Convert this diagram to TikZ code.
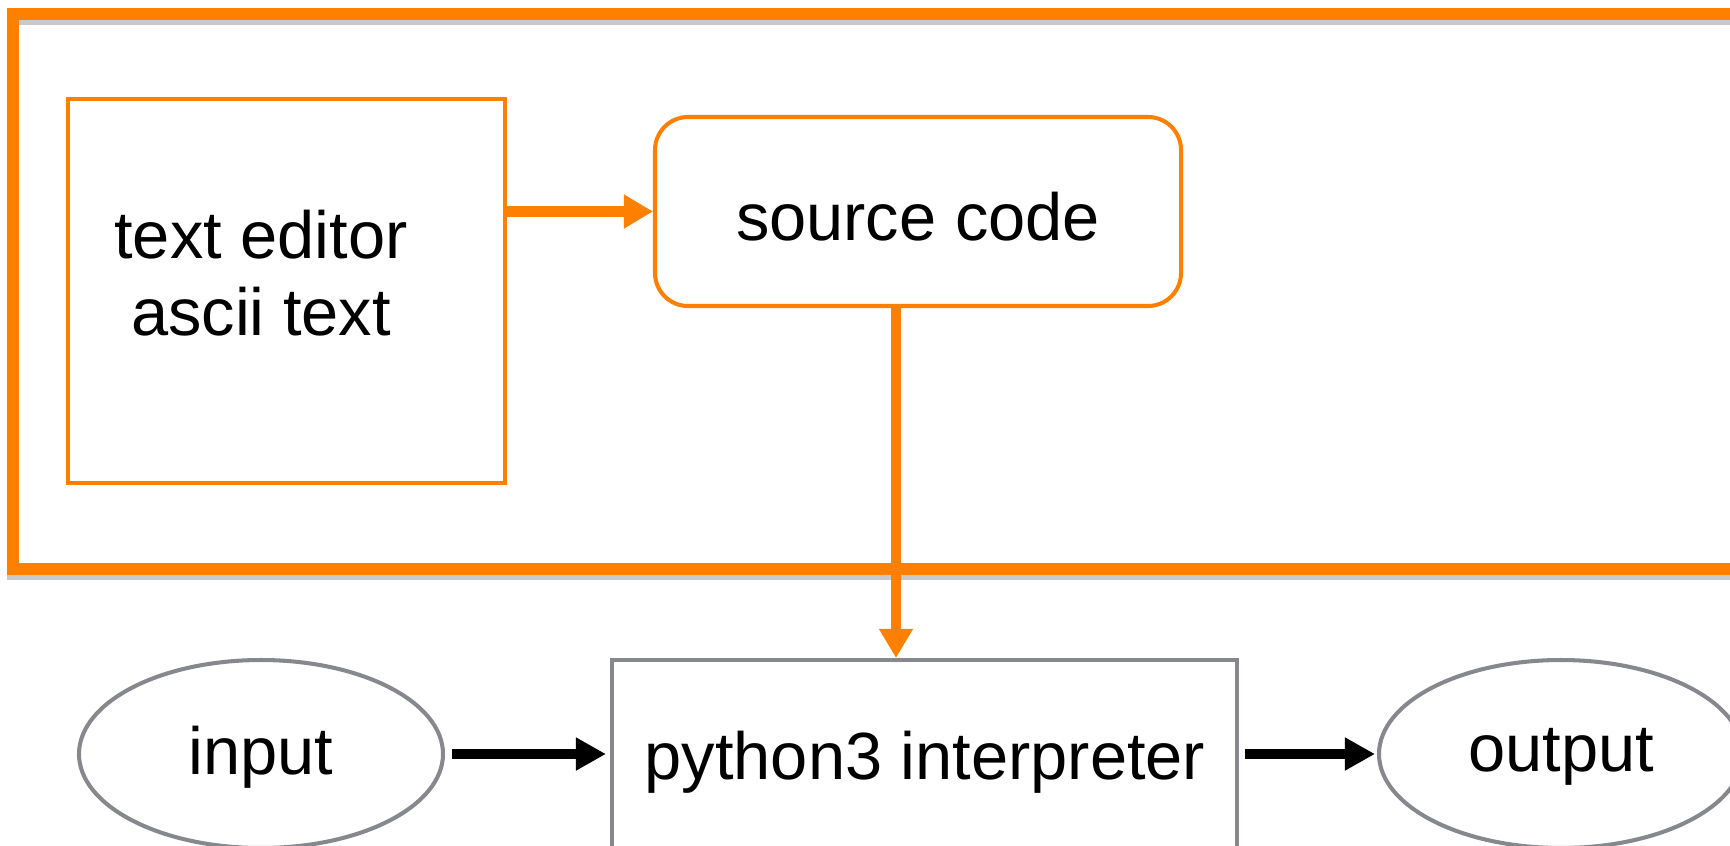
\documentclass[tikz,border=0pt]{standalone}
\usepackage{fontspec}
\setmainfont{Liberation Sans}
\usetikzlibrary{arrows.meta,shapes.geometric}
\definecolor{codeorange}{RGB}{255,128,0}
\definecolor{flowgray}{RGB}{134,136,141}
\begin{document}
\begin{tikzpicture}[x=0.2mm,y=-0.2mm,
		txt/.style={font=\fontsize{38}{44}\selectfont,align=center},
		obox/.style={draw=codeorange,line width=2.3pt,inner sep=0pt},
		gbox/.style={draw=flowgray,line width=2.3pt,inner sep=0pt},
		oarrow/.style={draw=codeorange,line width=5.7pt,-{Triangle[length=5.8mm,width=6.4mm]}},
		karrow/.style={draw=black,line width=5.7pt,-{Triangle[length=6mm,width=6.2mm]}}]
	\useasboundingbox (0,0) rectangle (1730,845);
	\clip (0,0) rectangle (1730,845);
	\fill[white] (0,0) rectangle (1730,845);
	% frame round the editor part
	\draw[line width=6.3pt,flowgray,opacity=0.45] (13,19) rectangle (1745,574);
	\draw[line width=6.3pt,codeorange] (13,14) rectangle (1745,569);
	\node[obox,minimum width=87.4mm,minimum height=76.8mm] (edbox) at (286.5,291) {};
	\node[txt] (edtxt) at (261,273) {text editor\\ascii text};
	\node[obox,rounded corners=6.6mm,minimum width=105.2mm,minimum height=37.8mm] (src) at (918,211.5) {};
	\node[txt] (srctxt) at (918,217) {source code};
	% interpreter part
	\node[gbox,minimum width=125mm,minimum height=42mm] (py) at (924.5,765) {};
	\node[txt] (pytxt) at (925,762) {python3 interpreter};
	\node[gbox,ellipse,minimum width=72.8mm,minimum height=37.6mm] (in) at (261,754) {};
	\node[txt] (intxt) at (261,757) {input};
	\node[gbox,ellipse,minimum width=72.8mm,minimum height=37.6mm] (out) at (1561,754) {};
	\node[txt] (outtxt) at (1561,757) {output};
	\draw[oarrow] (edbox.east |- src.west) -- (src.west);
	\draw[oarrow] ([xshift=-4.4mm]src.south) -- ([xshift=-4.4mm]src.south |- py.north);
	\draw[karrow,shorten <=1.4mm,shorten >=0.8mm] (in.east) -- (in.east -| py.west);
	\draw[karrow,shorten <=1.2mm,shorten >=0.4mm] (py.east |- out.west) -- (out.west);
\end{tikzpicture}
\end{document}
